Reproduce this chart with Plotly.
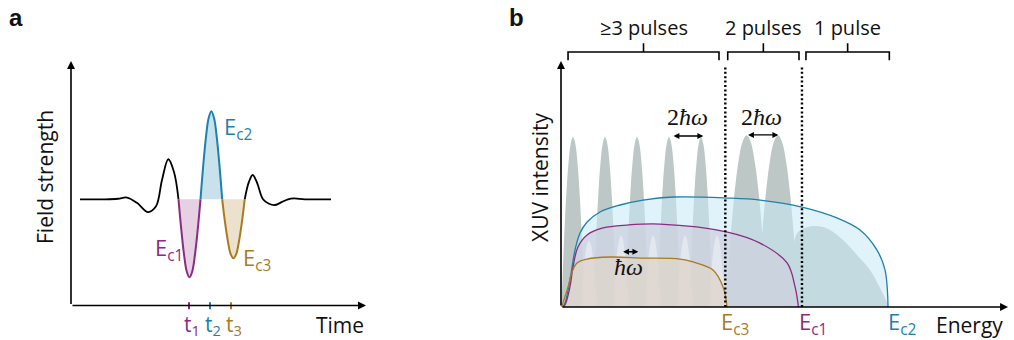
import plotly.graph_objects as go

# ---------------- Panel a data (time in a.u., field normalised to the E_c2 half-cycle) ----------------
t_pre = [0.9, 3.4, 4.7, 5.6, 6.6, 7.7, 8.5, 9.1, 9.73, 10.3, 10.75]
E_pre = [0, 0, 0.006, 0.02, -0.04, -0.145, -0.08, 0.22, 0.455, 0.31, 0]
t_c1 = [10.75, 11.025, 11.3, 11.575, 11.85, 12.125, 12.4, 12.675, 12.95]
E_c1 = [0, -0.34, -0.626, -0.82, -0.886, -0.82, -0.626, -0.34, 0]
t_c2 = [12.95, 13.22, 13.49, 13.76, 14.03, 14.31, 14.58, 14.85, 15.12]
E_c2 = [0, 0.38, 0.70, 0.92, 1.0, 0.92, 0.70, 0.38, 0]
t_c3 = [15.12, 15.4, 15.68, 15.96, 16.24, 16.53, 16.81, 17.09, 17.37]
E_c3 = [0, -0.26, -0.47, -0.62, -0.67, -0.62, -0.47, -0.26, 0]
t_post = [17.37, 17.8, 18.17, 18.6, 19.2, 19.8, 20.4, 21.1, 21.7, 22.3, 23.4, 26.0]
E_post = [0, 0.2, 0.276, 0.19, 0, -0.05, -0.065, -0.03, 0, 0.01, 0, 0]
t_ticks = [11.8, 13.9, 16.0]
t_tick_labels = ["t<sub>1</sub>", "t<sub>2</sub>", "t<sub>3</sub>"]

# ---------------- Panel b data (energy in units of ħω, intensity normalised to harmonic peak) ----------------
E_blue = [0.1, 0.25, 0.56, 0.875, 1.19, 1.63, 2.44, 3.69, 5.13, 7.0, 10.4, 12.44, 15.06, 17.25, 18.69, 19.75, 20.25, 20.44]
I_blue = [0, 0.024, 0.159, 0.335, 0.435, 0.5, 0.559, 0.6, 0.629, 0.647, 0.641, 0.629, 0.588, 0.524, 0.453, 0.335, 0.218, 0]
E_purple = [0.1, 0.25, 0.56, 0.75, 1.06, 1.63, 2.63, 4.13, 6.19, 10.4, 12.44, 14.13, 14.63, 14.84]
I_purple = [0, 0.012, 0.118, 0.235, 0.353, 0.424, 0.465, 0.482, 0.488, 0.441, 0.376, 0.259, 0.118, 0]
E_gold = [0.05, 0.125, 0.44, 0.69, 1.0, 1.63, 3.06, 5.13, 7.44, 8.25, 9.5, 10.13, 10.38]
I_gold = [0, 0.024, 0.118, 0.206, 0.259, 0.282, 0.294, 0.288, 0.282, 0.265, 0.218, 0.118, 0]

harm3_centers = [0.75, 2.75, 4.75, 6.75, 8.75]
harm3_heights = [1.0, 1.0, 1.0, 1.0, 1.0]
harm3_halfwidth = 0.72
harm2_centers = [11.6, 13.56]
harm2_heights = [1.01, 1.01]
harm2_halfwidth = 1.3
half_centers = [1.75, 3.75, 5.75, 7.75, 9.75]
half_heights = [0.39, 0.42, 0.42, 0.42, 0.42]
half_halfwidth = 0.5
peak_profile_x = [-1, -0.8, -0.6, -0.4, -0.2, 0, 0.2, 0.4, 0.6, 0.8, 1]
peak_profile_y = [0, 0.36, 0.64, 0.84, 0.96, 1, 0.96, 0.84, 0.64, 0.36, 0]
E_hump = [14.6, 14.69, 15.25, 16.06, 16.81, 17.63, 18.5, 19.31, 19.94, 20.44, 20.46]
I_hump = [0, 0.424, 0.465, 0.476, 0.453, 0.394, 0.306, 0.218, 0.112, 0.012, 0]

E_cutoff_lines = [10.27, 15.06]
E_cut_labels = ["E<sub>c3</sub>", "E<sub>c1</sub>", "E<sub>c2</sub>"]
E_cut_label_pos = [9.9, 14.75, 20.3]
bracket_ranges = [(0.44, 9.875), (10.42, 14.875), (15.31, 20.52)]
bracket_labels = ["≥3 pulses", "2 pulses", "1 pulse"]

PURPLE = "#8B2C80"
BLUE = "#1C82AB"
GOLD = "#A97A1E"
FONT = "Open Sans"

fig = go.Figure()

# ---- panel a traces ----
fig.add_trace(go.Scatter(x=t_pre, y=E_pre, mode="lines", line=dict(color="black", width=1.8, shape="spline"),
                         xaxis="x", yaxis="y", hoverinfo="skip"))
fig.add_trace(go.Scatter(x=t_post, y=E_post, mode="lines", line=dict(color="black", width=1.8, shape="spline"),
                         xaxis="x", yaxis="y", hoverinfo="skip"))
for tt, ee, col, fc in [(t_c1, E_c1, PURPLE, "rgba(142,42,128,0.22)"),
                        (t_c2, E_c2, BLUE, "rgba(30,128,166,0.24)"),
                        (t_c3, E_c3, GOLD, "rgba(168,120,28,0.22)")]:
    fig.add_trace(go.Scatter(x=tt, y=ee, mode="lines", fill="tozeroy", fillcolor=fc,
                             line=dict(color=col, width=2, shape="spline"),
                             xaxis="x", yaxis="y", hoverinfo="skip"))
tick_cols = [PURPLE, BLUE, GOLD]
for tv, col in zip(t_ticks, tick_cols):
    fig.add_trace(go.Scatter(x=[tv, tv], y=[-1.17, -1.25], mode="lines", line=dict(color=col, width=2),
                             xaxis="x", yaxis="y", hoverinfo="skip"))

# ---- panel b traces ----
def peak_trace(c, h, hw, color):
    xs = [c + px * hw for px in peak_profile_x]
    ys = [h * py for py in peak_profile_y]
    return go.Scatter(x=xs, y=ys, mode="lines", fill="tozeroy", fillcolor=color,
                      line=dict(width=0, color=color, shape="spline"), xaxis="x2", yaxis="y2", hoverinfo="skip")

GRAY = "rgb(189,200,198)"
for c, h in zip(harm3_centers, harm3_heights):
    fig.add_trace(peak_trace(c, h, harm3_halfwidth, GRAY))
for c, h in zip(harm2_centers, harm2_heights):
    fig.add_trace(peak_trace(c, h, harm2_halfwidth, GRAY))
fig.add_trace(go.Scatter(x=E_hump, y=I_hump, mode="lines", fill="tozeroy", fillcolor=GRAY,
                         line=dict(width=0, color=GRAY, shape="spline"), xaxis="x2", yaxis="y2", hoverinfo="skip"))

fig.add_trace(go.Scatter(x=E_blue, y=I_blue, mode="lines", fill="tozeroy", fillcolor="rgba(198,234,246,0.55)",
                         line=dict(width=0, shape="spline"), xaxis="x2", yaxis="y2", hoverinfo="skip"))
fig.add_trace(go.Scatter(x=E_purple, y=I_purple, mode="lines", fill="tozeroy", fillcolor="rgba(206,208,223,0.75)",
                         line=dict(width=0, shape="spline"), xaxis="x2", yaxis="y2", hoverinfo="skip"))
for c, h in zip(half_centers, half_heights):
    fig.add_trace(peak_trace(c, h, half_halfwidth, "rgba(255,255,255,0.38)"))
fig.add_trace(go.Scatter(x=E_gold, y=I_gold, mode="lines", fill="tozeroy", fillcolor="rgba(222,213,206,0.85)",
                         line=dict(width=0, shape="spline"), xaxis="x2", yaxis="y2", hoverinfo="skip"))
for xs, ys, col in [(E_blue, I_blue, BLUE), (E_purple, I_purple, PURPLE), (E_gold, I_gold, GOLD)]:
    fig.add_trace(go.Scatter(x=xs, y=ys, mode="lines", line=dict(color=col, width=1.3, shape="spline"),
                             xaxis="x2", yaxis="y2", hoverinfo="skip"))
for xv in E_cutoff_lines:
    fig.add_trace(go.Scatter(x=[xv, xv], y=[0, 1.41], mode="lines",
                             line=dict(color="black", width=2.4, dash="2px,2.4px"),
                             xaxis="x2", yaxis="y2", hoverinfo="skip"))
for (b0, b1) in bracket_ranges:
    bc = (b0 + b1) / 2
    fig.add_trace(go.Scatter(x=[b0, b0, bc, bc, bc, b1, b1], y=[1.451, 1.5, 1.5, 1.551, 1.5, 1.5, 1.451],
                             mode="lines", line=dict(color="black", width=1.6),
                             xaxis="x2", yaxis="y2", hoverinfo="skip"))

annotations = []
def arrow(x, y, ax, ay, xr, yr, both=False, w=1.6, size=1.0):
    d = dict(x=x, y=y, ax=ax, ay=ay, xref=xr, yref=yr, axref=xr, ayref=yr, text="", showarrow=True,
             arrowhead=2, arrowsize=size, arrowwidth=w, arrowcolor="black", standoff=0, startstandoff=0)
    if both:
        d["arrowside"] = "end+start"
    return d

annotations.append(arrow(0, 1.572, 0, -1.207, "x", "y"))
annotations.append(arrow(29.5, -1.207, 0, -1.207, "x", "y"))
annotations.append(arrow(0, 1.447, 0, 0, "x2", "y2"))
annotations.append(arrow(27.94, 0, 0, 0, "x2", "y2"))
annotations.append(arrow(4.83, 0.325, 3.79, 0.325, "x2", "y2", both=True, w=1.3, size=0.9))
annotations.append(arrow(8.89, 1.006, 6.94, 1.006, "x2", "y2", both=True, w=1.3, size=0.9))
annotations.append(arrow(13.58, 1.012, 11.6, 1.012, "x2", "y2", both=True, w=1.3, size=0.9))

def txt(text, x, y, xr, yr, size=21, color="#111", xanchor="center", yanchor="middle", family=FONT, angle=0):
    return dict(text=text, x=x, y=y, xref=xr, yref=yr, showarrow=False, xanchor=xanchor, yanchor=yanchor,
                textangle=angle, font=dict(size=size, color=color, family=family))

annotations.append(txt("<b>a</b>", 16 / 1014, 1 - 17.5 / 340, "paper", "paper", size=24, family="Liberation Sans"))
annotations.append(txt("<b>b</b>", 516 / 1014, 1 - 17.5 / 340, "paper", "paper", size=24, family="Liberation Sans"))
annotations.append(txt("Field strength", 45 / 1014, 1 - 177 / 340, "paper", "paper", angle=-90))
annotations.append(txt("XUV intensity", 540 / 1014, 1 - 177 / 340, "paper", "paper", angle=-90))
annotations.append(txt("Time", 26.9, -1.43, "x", "y"))
annotations.append(txt("Energy", 25.56, -0.106, "x2", "y2"))
for tv, lab, col in zip(t_ticks, t_tick_labels, tick_cols):
    annotations.append(txt(lab, tv + 0.3, -1.43, "x", "y", color=col))
annotations.append(txt("E<sub>c1</sub>", 8.2, -0.565, "x", "y", color=PURPLE, xanchor="left", size=22))
annotations.append(txt("E<sub>c2</sub>", 15.1, 0.81, "x", "y", color=BLUE, xanchor="left", size=22))
annotations.append(txt("E<sub>c3</sub>", 16.95, -0.678, "x", "y", color=GOLD, xanchor="left", size=22))
for lab, xp, col in zip(E_cut_labels, E_cut_label_pos, [GOLD, PURPLE, BLUE]):
    annotations.append(txt(lab, xp, -0.094, "x2", "y2", color=col, xanchor="left", size=22))
for (b0, b1), lab in zip(bracket_ranges, bracket_labels):
    annotations.append(txt(lab, (b0 + b1) / 2, 1.647, "x2", "y2", size=20))
annotations.append(txt("<i>ħω</i>", 4.19, 0.237, "x2", "y2", size=24, family="Liberation Serif"))
annotations.append(txt("2<i>ħω</i>", 7.92, 1.116, "x2", "y2", size=24, family="Liberation Serif"))
annotations.append(txt("2<i>ħω</i>", 12.54, 1.116, "x2", "y2", size=24, family="Liberation Serif"))

axis_common = dict(visible=False, showgrid=False, zeroline=False, fixedrange=True)
fig.update_layout(
    width=1014, height=340, margin=dict(l=0, r=0, t=0, b=0),
    paper_bgcolor="white", plot_bgcolor="rgba(0,0,0,0)", showlegend=False,
    xaxis=dict(domain=[0, 0.5], range=[-7.1, 43.6], **axis_common),
    yaxis=dict(domain=[0, 1], range=[-1.59886, 2.26477], **axis_common),
    xaxis2=dict(domain=[561 / 1014, 1], range=[0, 28.3125], anchor="y2", **axis_common),
    yaxis2=dict(domain=[0, 1], range=[-0.194118, 1.805882], anchor="x2", **axis_common),
    annotations=annotations,
)
fig.write_html("out.html")
